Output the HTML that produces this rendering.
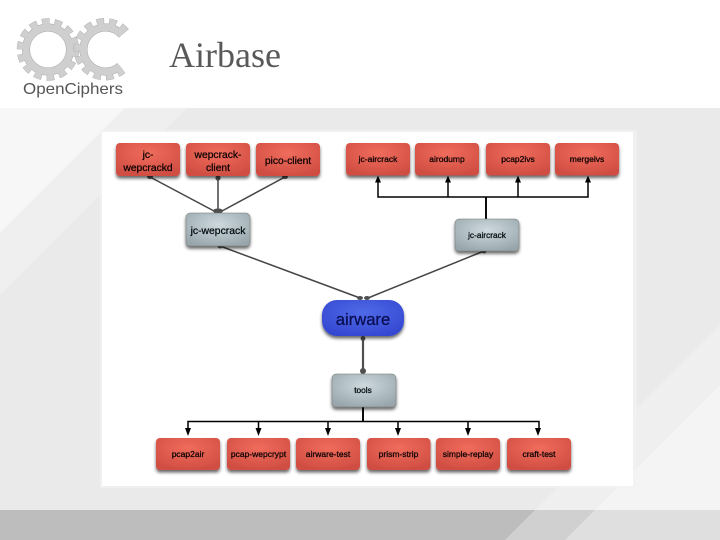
<!DOCTYPE html>
<html><head><meta charset="utf-8"><style>
html,body{margin:0;padding:0;width:720px;height:540px;overflow:hidden;background:#fff}
svg{display:block}
text{font-family:"Liberation Sans",sans-serif}
</style></head><body>
<svg width="720" height="540" viewBox="0 0 720 540" xmlns="http://www.w3.org/2000/svg">
<defs>
<radialGradient id="r" cx="50%" cy="30%" r="72%"><stop offset="0" stop-color="#f06c5c"/><stop offset="1" stop-color="#cf4d42"/></radialGradient>
<radialGradient id="g" cx="50%" cy="35%" r="70%"><stop offset="0" stop-color="#cdd9df"/><stop offset="1" stop-color="#98a6ac"/></radialGradient>
<radialGradient id="b" cx="50%" cy="35%" r="70%"><stop offset="0" stop-color="#4f6ae8"/><stop offset="1" stop-color="#3346d0"/></radialGradient>
<filter id="s" x="-10%" y="-10%" width="120%" height="135%"><feGaussianBlur in="SourceAlpha" stdDeviation="1.6"/><feOffset dy="2.500"/><feComponentTransfer><feFuncA type="linear" slope=".6"/></feComponentTransfer><feMerge><feMergeNode/><feMergeNode in="SourceGraphic"/></feMerge></filter>
<filter id="soft"><feGaussianBlur stdDeviation="0.35"/></filter>
<filter id="soft2"><feGaussianBlur stdDeviation="0.25"/></filter>
</defs>

<!-- backgrounds -->
<rect y="108" width="720" height="402" fill="#eaeaea"/>
<polygon points="0,295 0,108 187,108" fill="#efefef"/>
<polygon points="0,233 0,108 125,108" fill="#f7f7f7"/>
<polygon points="535,510 720,325 720,510" fill="#efefef"/>
<polygon points="595,510 720,385 720,510" fill="#f4f4f4"/>
<rect y="510" width="720" height="30" fill="#bdbdbd"/>
<polygon points="505,540 535,510 720,510 720,540" fill="#d0d0d0"/>
<polygon points="565,540 595,510 720,510 720,540" fill="#dfdfdf"/>

<!-- logo -->
<g filter="url(#soft2)" fill="none">
<circle cx="48" cy="49.500" r="27.500" stroke="#b5b5b5" stroke-width="7.500" stroke-dasharray="7.500 4.840"/>
<circle cx="48" cy="49.500" r="22" stroke="#a8a8a8" stroke-width="8"/>
<circle cx="48" cy="49.500" r="27.500" stroke="#cfcfcf" stroke-width="6.500" stroke-dasharray="6.500 5.840" stroke-dashoffset="-.5"/>
<circle cx="48" cy="49.500" r="22" stroke="#cfcfcf" stroke-width="7"/>
<path d="M126 31.500A27.500 27.500 0 1 0 123 70" stroke="#b5b5b5" stroke-width="7.500" stroke-dasharray="7.500 4.840"/>
<path d="M122 35A22 22 0 1 0 120 66" stroke="#a8a8a8" stroke-width="8"/>
<path d="M126 31.500A27.500 27.500 0 1 0 123 70" stroke="#cfcfcf" stroke-width="6.500" stroke-dasharray="6.500 5.840" stroke-dashoffset="-.5"/>
<path d="M122 35A22 22 0 1 0 120 66" stroke="#cfcfcf" stroke-width="7"/>
</g>
<text x="23" y="94" font-size="16" fill="#555" textLength="100" lengthAdjust="spacingAndGlyphs" filter="url(#soft2)">OpenCiphers</text>
<text x="169" y="67" font-size="36" fill="#595959" style="font-family:'Liberation Serif',serif" textLength="112" lengthAdjust="spacingAndGlyphs">Airbase</text>

<!-- diagram panel -->
<rect x="100" y="130" width="537" height="358" fill="#f2f2f2" opacity=".7"/>
<rect x="102" y="132" width="531" height="354" fill="#fff"/>

<g filter="url(#soft)">
<!-- grey connectors -->
<g stroke="#444" stroke-width="1.500" fill="none">
<path d="M150 177L214 211M218 177V211M285 177L222 211"/>
<path d="M220 246L360 298M484 251L368 298"/>
</g>
<path d="M363 338V371" stroke="#4f4f4f" stroke-width="2.200" fill="none"/>
<g fill="#505050">
<ellipse cx="150" cy="177" rx="3" ry="2"/><circle cx="218" cy="178" r="2.600"/><ellipse cx="285" cy="177" rx="3" ry="2"/>
<ellipse cx="218" cy="211" rx="5" ry="2.600"/>
<circle cx="220" cy="246" r="2.400"/><circle cx="484" cy="251" r="2.400"/>
<ellipse cx="360" cy="298" rx="3" ry="2"/><ellipse cx="367" cy="298" rx="3" ry="2"/>
<circle cx="363" cy="338.500" r="2.400"/><circle cx="363" cy="371" r="3"/>
</g>
<!-- black connectors -->
<g stroke="#000" stroke-width="1.500" fill="none">
<path d="M378 182V197H588V182"/><path d="M448 182V197M518 182V197"/>
<path d="M486 197V219" stroke-width="1.900"/>
<path d="M363 407V421" stroke-width="1.900"/>
<path d="M188 428V421.500H539V428"/>
<path d="M258.500 421.500V428M328 421.500V428M398 421.500V428M468 421.500V428"/>
</g>
<g fill="#000">
<path d="M378 175.500l-3 7h6zM448 175.500l-3 7h6zM518 175.500l-3 7h6zM588 175.500l-3 7h6z"/>
<path d="M188 436l-3 -8h6zM258.500 436l-3 -8h6zM328 436l-3 -8h6zM398 436l-3 -8h6zM468 436l-3 -8h6zM538 436l-3 -8h6z"/>
</g>

<!-- red nodes -->
<g filter="url(#s)" fill="url(#r)">
<rect x="116" y="143" width="64" height="33" rx="4"/>
<rect x="186" y="143" width="64" height="33" rx="4"/>
<rect x="256" y="143" width="64" height="33" rx="4"/>
<rect x="346" y="143" width="64" height="32.500" rx="4"/>
<rect x="415" y="143" width="64" height="32.500" rx="4"/>
<rect x="486" y="143" width="64" height="32.500" rx="4"/>
<rect x="555" y="143" width="64" height="32.500" rx="4"/>
<rect x="156" y="438" width="64" height="32" rx="4"/>
<rect x="227" y="438" width="63" height="32" rx="4"/>
<rect x="296" y="438" width="64" height="32" rx="4"/>
<rect x="367" y="438" width="63.500" height="32" rx="4"/>
<rect x="436" y="438" width="64" height="32" rx="4"/>
<rect x="507" y="438" width="64" height="32" rx="4"/>
</g>
<!-- grey nodes -->
<g filter="url(#s)" fill="url(#g)" stroke="#777" stroke-width=".5">
<rect x="186" y="213" width="64" height="33" rx="4"/>
<rect x="455" y="219" width="64" height="32" rx="4"/>
<rect x="332" y="374" width="64" height="33" rx="4"/>
</g>
<rect x="322" y="300" width="82" height="36" rx="15" fill="url(#b)" filter="url(#s)"/>
</g>

<!-- labels -->
<g filter="url(#soft2)">
<g fill="#0a0202" stroke="#0a0202" stroke-width=".25" text-anchor="middle">
<g font-size="10.300">
<text x="148" y="158">jc-</text><text x="148" y="171">wepcrackd</text>
<text x="218" y="158">wepcrack-</text><text x="218" y="171">client</text>
<text x="288" y="164">pico-client</text>
</g>
<g font-size="8.500">
<text x="378" y="162">jc-aircrack</text>
<text x="447" y="162">airodump</text>
<text x="518" y="162">pcap2ivs</text>
<text x="587" y="162">mergeivs</text>
<text x="188" y="457">pcap2air</text>
<text x="258.500" y="457">pcap-wepcrypt</text>
<text x="328" y="457">airware-test</text>
<text x="398.500" y="457">prism-strip</text>
<text x="468" y="457">simple-replay</text>
<text x="539" y="457">craft-test</text>
</g>
</g>
<g fill="#05090c" stroke="#05090c" stroke-width=".25" text-anchor="middle">
<text x="218" y="234" font-size="10.400">jc-wepcrack</text>
<text x="487" y="238" font-size="8.300">jc-aircrack</text>
<text x="363" y="393" font-size="8.300">tools</text>
</g>
<text x="363" y="325" font-size="16.600" fill="#080b50" stroke="#080b50" stroke-width=".25" text-anchor="middle">airware</text>
</g>
</svg>
</body></html>
